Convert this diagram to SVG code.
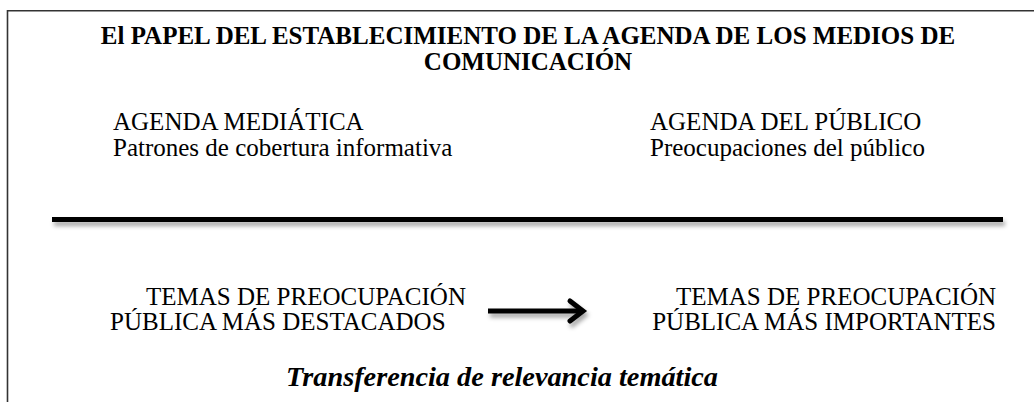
<svg xmlns="http://www.w3.org/2000/svg" width="1034" height="402" viewBox="0 0 1034 402">
<defs>
<style>
.t{font-family:"Liberation Serif","Times New Roman",Times,serif;font-size:25px;fill:#000}
.b{font-weight:bold}
.i{font-style:italic;font-weight:bold}
.frame{stroke:#333;stroke-width:1.6;fill:none}
.bar{stroke:#000;stroke-width:5;fill:none}
</style>
<filter id="sh" filterUnits="userSpaceOnUse" x="0" y="0" width="1034" height="402">
<feDropShadow dx="2" dy="4" stdDeviation="2.2" flood-color="#000" flood-opacity="0.35"/>
</filter>
</defs>
<rect width="1034" height="402" fill="#fff"/>
<g id="frame">
<path class="frame" d="M7.5 402 V10.8 H1034"/>
</g>
<g id="title">
<text class="t b" x="528" y="43.5" text-anchor="middle">El PAPEL DEL ESTABLECIMIENTO DE LA AGENDA DE LOS MEDIOS DE</text>
<text class="t b" x="528" y="70" text-anchor="middle">COMUNICACIÓN</text>
</g>
<g id="media-agenda">
<text class="t" x="113" y="130">AGENDA MEDIÁTICA</text>
<text class="t" x="113" y="156">Patrones de cobertura informativa</text>
</g>
<g id="public-agenda">
<text class="t" x="650" y="130">AGENDA DEL PÚBLICO</text>
<text class="t" x="650" y="156">Preocupaciones del público</text>
</g>
<g id="divider">
<line class="bar" x1="52" y1="219.5" x2="1003" y2="219.5" filter="url(#sh)"/>
</g>
<g id="salient-issues">
<text class="t" x="146" y="305">TEMAS DE PREOCUPACIÓN</text>
<text class="t" x="110" y="330">PÚBLICA MÁS DESTACADOS</text>
</g>
<g id="important-issues">
<text class="t" x="996" y="305" text-anchor="end">TEMAS DE PREOCUPACIÓN</text>
<text class="t" x="996" y="330" text-anchor="end">PÚBLICA MÁS IMPORTANTES</text>
</g>
<g id="connectors">
<g filter="url(#sh)" stroke="#000" fill="none" stroke-width="5">
<line x1="488" y1="311" x2="580" y2="311"/>
<path d="M570 301 L583 311 L570 321" stroke-linecap="round" stroke-linejoin="miter"/>
</g>
</g>
<g id="caption">
<text class="t i" x="286" y="386" textLength="432" lengthAdjust="spacingAndGlyphs" style="font-size:26.5px">Transferencia de relevancia temática</text>
</g>
</svg>
